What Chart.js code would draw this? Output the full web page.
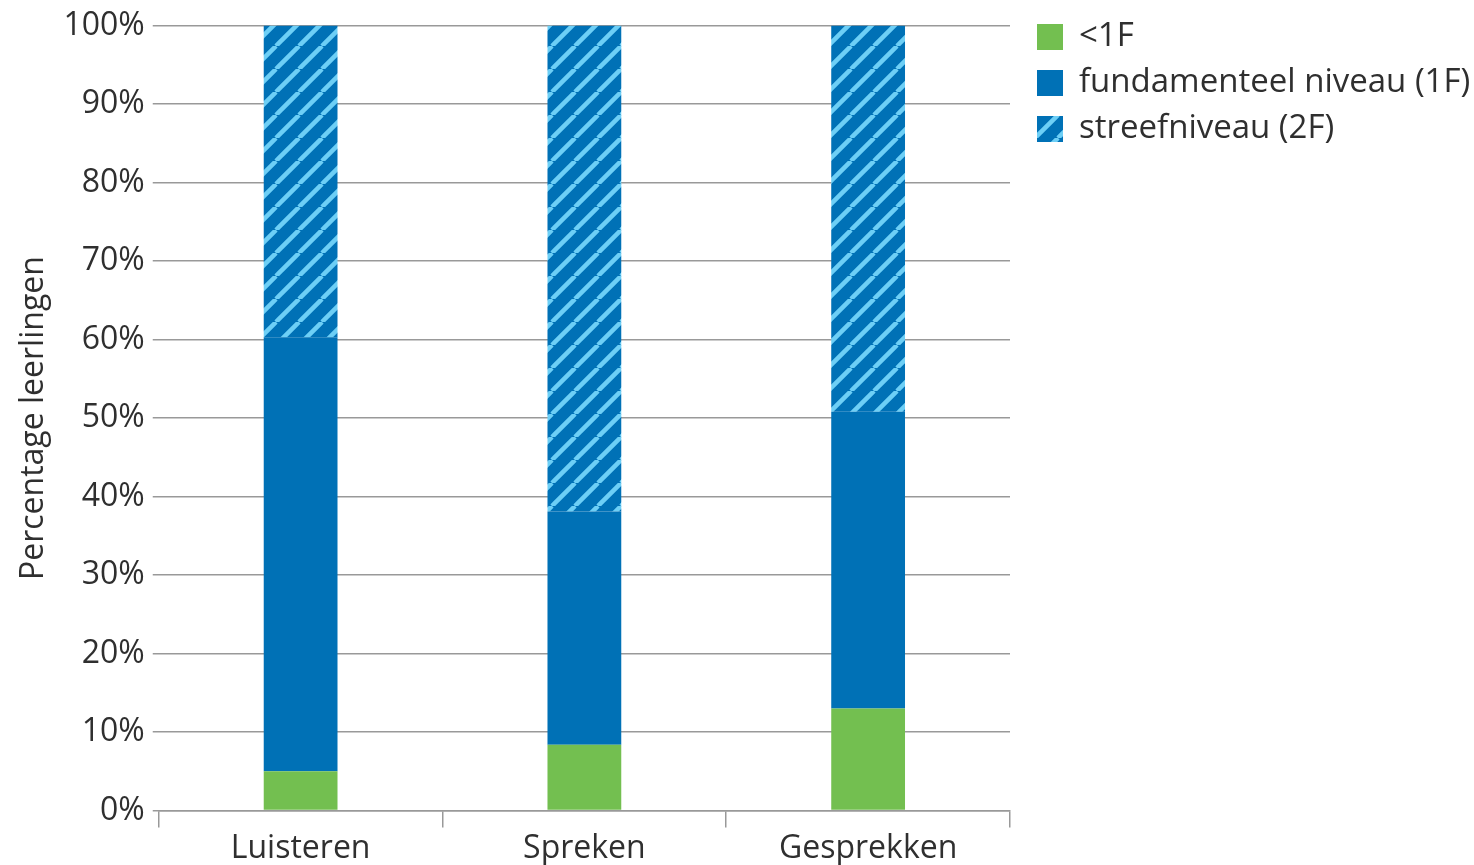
<!DOCTYPE html>
<html>
<head>
<meta charset="utf-8">
<script src="https://cdn.jsdelivr.net/npm/chart.js@4.4.1/dist/chart.umd.min.js"></script>
<style>
  html, body { margin: 0; padding: 0; background: #fff; overflow: hidden; }
  #wrap { position: relative; width: 1474px; height: 870px; }
</style>
</head>
<body>
<div id="wrap"><canvas id="chart"></canvas></div>
<script>
/* ================= DATA ================= */
const categories = ["Luisteren", "Spreken", "Gesprekken"];
const below1F = [5.0, 8.4, 13.0];
const level1F = [55.3, 29.7, 37.8];
const level2F = [39.7, 61.9, 49.2];
const seriesLabels = ["<1F", "fundamenteel niveau (1F)", "streefniveau (2F)"];
const yTicks = [0, 10, 20, 30, 40, 50, 60, 70, 80, 90, 100];

const GREEN = "#73bf50";
const BLUE = "#0071b6";
const LIGHT = "#6dcff6";
const TEXT = "#2f2f2f";
const FONT = "'Open Sans', 'Noto Sans', sans-serif";

/* ================= HATCH ================= */
function makeHatch(size) {
  const c = document.createElement("canvas");
  c.width = size;
  c.height = size;
  const g = c.getContext("2d");
  g.fillStyle = BLUE;
  g.fillRect(0, 0, size, size);
  g.strokeStyle = LIGHT;
  g.lineWidth = 4.5;
  g.beginPath();
  for (let k = -1; k <= 1; k++) {
    g.moveTo(k * size, size);
    g.lineTo(k * size + size, 0);
  }
  g.stroke();
  return g.createPattern(c, "repeat");
}
const hatch = makeHatch(23);

/* ================= LEGEND (drawn beside the plot) ================= */
const sideLegend = {
  id: "sideLegend",
  afterDraw(chart) {
    const ctx = chart.ctx;
    const x = chart.chartArea.right + 27;
    ctx.save();
    ctx.font = "33px " + FONT;
    ctx.textBaseline = "middle";
    chart.data.datasets.forEach((ds, i) => {
      const cy = 37 + i * 46;
      ctx.fillStyle = ds.backgroundColor;
      ctx.fillRect(x, cy - 13, 26, 26);
      ctx.fillStyle = TEXT;
      ctx.fillText(ds.label, x + 42, cy);
    });
    ctx.restore();
  }
};

/* ================= CHART ================= */
new Chart(document.getElementById("chart"), {
  type: "bar",
  data: {
    labels: categories,
    datasets: [
      { label: seriesLabels[0], data: below1F, backgroundColor: GREEN },
      { label: seriesLabels[1], data: level1F, backgroundColor: BLUE },
      { label: seriesLabels[2], data: level2F, backgroundColor: hatch }
    ]
  },
  plugins: [sideLegend],
  options: {
    responsive: true,
    maintainAspectRatio: false,
    animation: false,
    datasets: {
      bar: { barPercentage: 0.26, categoryPercentage: 1, borderWidth: 0 }
    },
    layout: { padding: { top: 0, right: 464, left: 13 } },
    plugins: {
      tooltip: { enabled: false },
      legend: { display: false }
    },
    scales: {
      x: {
        stacked: true,
        grid: {
          offset: true,
          drawOnChartArea: false,
          tickLength: 17,
          color: "#999",
          lineWidth: 1.5
        },
        border: { color: "#999", width: 1.5 },
        ticks: {
          color: TEXT,
          font: { family: FONT, size: 32 },
          padding: 2
        }
      },
      y: {
        stacked: true,
        min: 0,
        max: 100,
        afterBuildTicks: axis => {
          axis.ticks = yTicks.map(v => ({ value: v }));
        },
        grid: { color: "#999", lineWidth: 1.5, tickLength: 6 },
        border: { display: false },
        ticks: {
          color: TEXT,
          font: { family: FONT, size: 32, lineHeight: 1.1 },
          padding: 8,
          callback: v => v + "%"
        },
        title: {
          display: true,
          text: "Percentage leerlingen",
          color: TEXT,
          font: { family: FONT, size: 32 },
          padding: 2
        }
      }
    }
  }
});
</script>
</body>
</html>
